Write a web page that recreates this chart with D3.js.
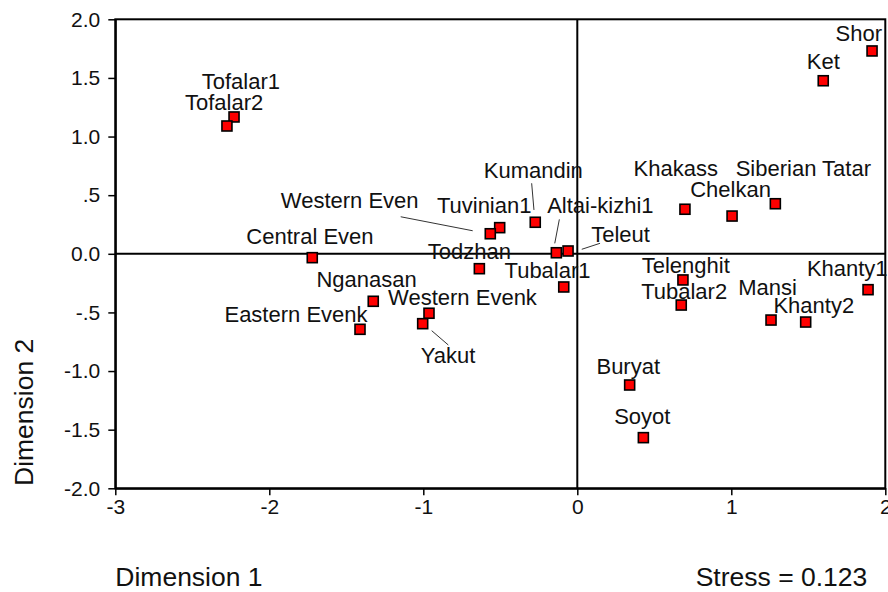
<!DOCTYPE html>
<html>
<head>
<meta charset="utf-8">
<script src="https://cdn.jsdelivr.net/npm/d3@7"></script>
<style>
  html, body { margin: 0; padding: 0; background: #fff; }
  svg { display: block; font-family: "Liberation Sans", Arial, sans-serif; }
</style>
</head>
<body>
<svg id="chart" width="888" height="592"></svg>
<script>
// ---- data ----
const populations = ["Tofalar1","Tofalar2","Shor","Ket","Khakass","Chelkan","Siberian Tatar",
  "Kumandin","Tuvinian1","Western Even","Altai-kizhi1","Teleut","Central Even","Todzhan",
  "Tubalar1","Nganasan","Eastern Evenk","Western Evenk","Yakut","Telenghit","Tubalar2",
  "Mansi","Khanty2","Khanty1","Buryat","Soyot"];
const dim1 = [-2.229,-2.275,1.914,1.597,0.699,1.005,1.286,
  -0.273,-0.504,-0.565,-0.136,-0.060,-1.721,-0.636,
  -0.088,-1.325,-1.411,-0.963,-1.004,0.686,0.675,
  1.258,1.483,1.888,0.340,0.429];
const dim2 = [1.167,1.090,1.730,1.476,0.380,0.322,0.427,
  0.269,0.223,0.171,0.009,0.024,-0.033,-0.127,
  -0.283,-0.405,-0.644,-0.507,-0.596,-0.223,-0.437,
  -0.565,-0.582,-0.306,-1.119,-1.568];
const xTickValues = [-3,-2,-1,0,1,2];
const xTickLabels = ["-3","-2","-1","0","1","2"];
const yTickValues = [-2,-1.5,-1,-0.5,0,0.5,1,1.5,2];
const yTickLabels = ["-2.0","-1.5","-1.0","-.5","0.0",".5","1.0","1.5","2.0"];
const xTitle = "Dimension 1";
const yTitle = "Dimension 2";
const stressText = "Stress = 0.123";

// ---- layout (label placement in pixels relative to each point) ----
const labelOffsets = {
  "Tofalar1":[6.8,-27.7], "Tofalar2":[-2.8,-16], "Shor":[-13.2,-10], "Ket":[0,-11.4],
  "Khakass":[-9.2,-33.6], "Chelkan":[-1.5,-19.3], "Siberian Tatar":[28,-28],
  "Kumandin":[-2,-44], "Tuvinian1":[-15.5,-14.4], "Western Even":[-140.6,-25.4],
  "Altai-kizhi1":[44,-39.4], "Teleut":[52.5,-9.3], "Central Even":[-2.3,-13.4],
  "Todzhan":[-10,-9.4], "Tubalar1":[-16.2,-8.7], "Nganasan":[-6.6,-14.6],
  "Eastern Evenk":[-64,-7.6], "Western Evenk":[33.5,-8.3], "Yakut":[25.3,39.3],
  "Telenghit":[2.8,-6.7], "Tubalar2":[2.9,-5.7], "Mansi":[-3.5,-25], "Khanty2":[8.1,-8.7],
  "Khanty1":[-20.8,-13.7], "Buryat":[-1.4,-10.7], "Soyot":[-1.1,-13.4]
};
const leaders = {
  "Western Even":[-89.6,-17,-17.6,-3],
  "Kumandin":[-3.6,-39,-1.3,-12.3],
  "Altai-kizhi1":[3,-33.4,-1.6,-9.4],
  "Teleut":[13.7,-1.7,32,-7.7],
  "Yakut":[9,7,25.6,21.3]
};

const pLeft = 115.3, pRight = 885.3, pTop = 19.3, pBottom = 488.3;
const svg = d3.select("#chart");
const x = d3.scaleLinear().domain([-3,2]).range([pLeft,pRight]);
const y = d3.scaleLinear().domain([-2,2]).range([pBottom,pTop]);

const points = populations.map((name,i)=>({name, d1:dim1[i], d2:dim2[i]}));

// frame
svg.append("rect").attr("x",pLeft).attr("y",pTop).attr("width",pRight-pLeft).attr("height",pBottom-pTop)
  .attr("fill","none").attr("stroke","#000").attr("stroke-width",2);

// reference lines at 0
svg.append("line").attr("x1",x(0)).attr("x2",x(0)).attr("y1",pTop).attr("y2",pBottom)
  .attr("stroke","#000").attr("stroke-width",2);
svg.append("line").attr("x1",pLeft).attr("x2",pRight).attr("y1",y(0)).attr("y2",y(0))
  .attr("stroke","#000").attr("stroke-width",2);

// axes
const xAxis = d3.axisBottom(x).tickValues(xTickValues)
  .tickFormat((d,i)=>xTickLabels[i]).tickSize(7).tickPadding(4).tickSizeOuter(0);
const gx = svg.append("g").attr("transform",`translate(0,${pBottom})`).call(xAxis);
const yAxis = d3.axisLeft(y).tickValues(yTickValues)
  .tickFormat((d,i)=>yTickLabels[i]).tickSize(7).tickPadding(8).tickSizeOuter(0);
const gy = svg.append("g").attr("transform",`translate(${pLeft},0)`).call(yAxis);
[gx,gy].forEach(g=>{
  g.select(".domain").attr("stroke","#000").attr("stroke-width",2);
  g.selectAll(".tick line").attr("stroke","#000").attr("stroke-width",1.5);
  g.selectAll(".tick text").attr("font-size",21).attr("fill","#111")
    .attr("font-family","'Liberation Sans', Arial, sans-serif");
});

// leader lines
svg.append("g").selectAll("line").data(points.filter(p=>leaders[p.name])).join("line")
  .attr("x1",p=>x(p.d1)+leaders[p.name][0]).attr("y1",p=>y(p.d2)+leaders[p.name][1])
  .attr("x2",p=>x(p.d1)+leaders[p.name][2]).attr("y2",p=>y(p.d2)+leaders[p.name][3])
  .attr("stroke","#333").attr("stroke-width",1);

// markers
const ms = 10;
svg.append("g").selectAll("rect").data(points).join("rect")
  .attr("x",p=>x(p.d1)-ms/2).attr("y",p=>y(p.d2)-ms/2)
  .attr("width",ms).attr("height",ms)
  .attr("fill","#ff0000").attr("stroke","#000").attr("stroke-width",1.6);

// labels
svg.append("g").selectAll("text").data(points).join("text")
  .attr("x",p=>x(p.d1)+labelOffsets[p.name][0])
  .attr("y",p=>y(p.d2)+labelOffsets[p.name][1])
  .attr("text-anchor","middle").attr("font-size",22).attr("fill","#111")
  .text(p=>p.name);

// titles
svg.append("text").attr("x",pLeft).attr("y",586).attr("font-size",26.5).attr("fill","#111").text(xTitle);
svg.append("text").attr("x",867.3).attr("y",586).attr("text-anchor","end").attr("font-size",26.5)
  .attr("fill","#111").text(stressText);
svg.append("text").attr("transform",`translate(33,${(336.7+488)/2}) rotate(-90)`)
  .attr("text-anchor","middle").attr("font-size",26.5).attr("fill","#111").text(yTitle);
</script>
</body>
</html>
